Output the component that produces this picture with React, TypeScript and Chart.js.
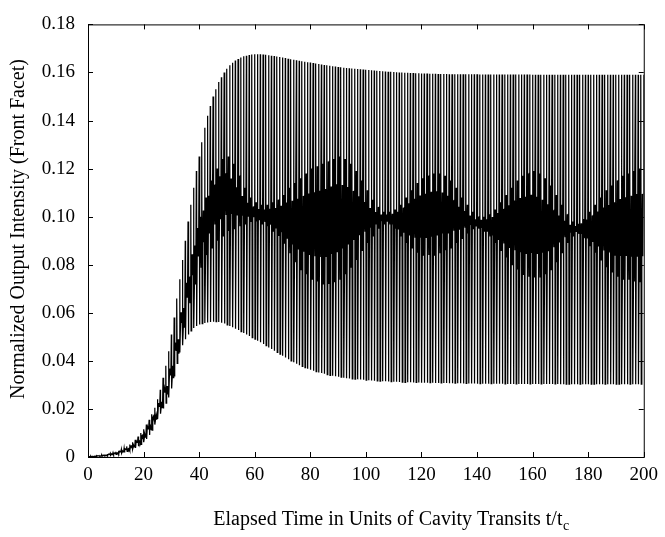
import React, { useEffect, useRef } from "react";
import { Chart, registerables } from "chart.js";

Chart.register(...registerables);

const FONT = "'Liberation Serif', 'Times New Roman', serif";

// Axis titles
const xTitle = "Elapsed Time in Units of Cavity Transits t/t";
const xTitleSub = "c";
const yTitle = "Normalized Output Intensity (Front Facet)";

// Time axis ticks and intensity axis ticks
const xTicks = [0, 20, 40, 60, 80, 100, 120, 140, 160, 180, 200];
const yTicks = [0, 0.02, 0.04, 0.06, 0.08, 0.1, 0.12, 0.14, 0.16, 0.18];

// Peak value of each cavity-transit oscillation (t = 0..200)
const peakValues = [
  0.0003, 0.0003, 0.0004, 0.0005, 0.0006, 0.0008, 0.001, 0.0012, 0.0015, 0.0018,
  0.0022, 0.0026, 0.0031, 0.0037, 0.0044, 0.0052, 0.0061, 0.0072, 0.0085, 0.01,
  0.0115, 0.0135, 0.0155, 0.0178, 0.0205, 0.024, 0.028, 0.033, 0.038, 0.044,
  0.051, 0.058, 0.066, 0.074, 0.082, 0.09, 0.098, 0.105, 0.112, 0.119,
  0.125, 0.131, 0.137, 0.142, 0.146, 0.15, 0.153, 0.156, 0.158, 0.16,
  0.1615, 0.163, 0.164, 0.165, 0.1656, 0.1662, 0.1667, 0.167, 0.1673, 0.1675,
  0.1676, 0.1676, 0.1676, 0.1675, 0.1674, 0.1672, 0.167, 0.1668, 0.1666, 0.1664,
  0.1662, 0.166, 0.1657, 0.1655, 0.1653, 0.1651, 0.1649, 0.1647, 0.1645, 0.1643,
  0.1641, 0.1639, 0.1637, 0.1635, 0.1633, 0.1631, 0.163, 0.1628, 0.1626, 0.1625,
  0.1623, 0.1622, 0.162, 0.1619, 0.1618, 0.1617, 0.1615, 0.1614, 0.1613, 0.1612,
  0.1611, 0.161, 0.1609, 0.1608, 0.1607, 0.1606, 0.1605, 0.1604, 0.1603, 0.1603,
  0.1602, 0.1601, 0.16, 0.16, 0.1599, 0.1599, 0.1598, 0.1598, 0.1597, 0.1597,
  0.1596, 0.1596, 0.1596, 0.1595, 0.1595, 0.1595, 0.1594, 0.1594, 0.1594, 0.1594,
  0.1593, 0.1593, 0.1593, 0.1593, 0.1593, 0.1593, 0.1593, 0.1593, 0.1593, 0.1593,
  0.1593, 0.1592, 0.1592, 0.1592, 0.1592, 0.1592, 0.1592, 0.1592, 0.1592, 0.1592,
  0.1592, 0.1592, 0.1592, 0.1592, 0.1592, 0.1592, 0.1592, 0.1592, 0.1592, 0.1592,
  0.1591, 0.1591, 0.1591, 0.1591, 0.1591, 0.1591, 0.1591, 0.1591, 0.1591, 0.1591,
  0.1591, 0.1591, 0.1591, 0.1591, 0.1591, 0.1591, 0.1591, 0.1591, 0.1591, 0.1591,
  0.159, 0.159, 0.159, 0.159, 0.159, 0.159, 0.159, 0.159, 0.159, 0.159,
  0.159, 0.159, 0.159, 0.159, 0.159, 0.159, 0.159, 0.159, 0.159, 0.159,
  0.159,
];

// Trough value of each oscillation (t = 0..199)
const troughValues = [
  0.0001, 0.0001, 0.0002, 0.0002, 0.0003, 0.0004, 0.0005, 0.0006, 0.0007, 0.0009,
  0.0011, 0.0013, 0.0016, 0.0019, 0.0023, 0.0027, 0.0032, 0.0038, 0.0045, 0.0053,
  0.0062, 0.0075, 0.0092, 0.0112, 0.0135, 0.0158, 0.018, 0.0202, 0.0224, 0.0248,
  0.0285, 0.0335, 0.039, 0.0435, 0.0465, 0.049, 0.051, 0.0525, 0.0537, 0.0545,
  0.0551, 0.0555, 0.0558, 0.056, 0.0562, 0.0563, 0.0563, 0.0562, 0.0559, 0.0555,
  0.055, 0.0545, 0.054, 0.0534, 0.0528, 0.0522, 0.0516, 0.051, 0.0503, 0.0497,
  0.049, 0.0484, 0.0477, 0.047, 0.0463, 0.0456, 0.0449, 0.0442, 0.0435, 0.0428,
  0.0421, 0.0414, 0.0407, 0.04, 0.0394, 0.0388, 0.0382, 0.0377, 0.0372, 0.0367,
  0.0363, 0.0359, 0.0355, 0.0352, 0.0349, 0.0346, 0.0343, 0.034, 0.0338, 0.0336,
  0.0334, 0.0332, 0.033, 0.0328, 0.0327, 0.0325, 0.0324, 0.0323, 0.0322, 0.0321,
  0.032, 0.0319, 0.0318, 0.0317, 0.0317, 0.0316, 0.0315, 0.0315, 0.0314, 0.0314,
  0.0313, 0.0313, 0.0312, 0.0312, 0.0311, 0.0311, 0.0311, 0.031, 0.031, 0.031,
  0.0309, 0.0309, 0.0309, 0.0309, 0.0309, 0.0308, 0.0308, 0.0308, 0.0308, 0.0308,
  0.0307, 0.0307, 0.0307, 0.0307, 0.0307, 0.0306, 0.0306, 0.0306, 0.0306, 0.0306,
  0.0305, 0.0305, 0.0305, 0.0305, 0.0305, 0.0305, 0.0305, 0.0305, 0.0305, 0.0305,
  0.0304, 0.0304, 0.0304, 0.0304, 0.0304, 0.0304, 0.0304, 0.0304, 0.0304, 0.0304,
  0.0304, 0.0304, 0.0304, 0.0304, 0.0304, 0.0304, 0.0304, 0.0304, 0.0304, 0.0304,
  0.0303, 0.0303, 0.0303, 0.0303, 0.0303, 0.0303, 0.0303, 0.0303, 0.0303, 0.0303,
  0.0303, 0.0303, 0.0303, 0.0303, 0.0303, 0.0303, 0.0303, 0.0303, 0.0303, 0.0303,
  0.0303, 0.0303, 0.0303, 0.0303, 0.0303, 0.0303, 0.0303, 0.0303, 0.0303, 0.0303,
];

// Upper / lower edge of the dense middle band, sampled every 2 transits (t = 0..200)
const bandUpper = [
  0.0002, 0.0003, 0.0005, 0.0008, 0.0012, 0.0017, 0.0024, 0.0034, 0.0047, 0.0066,
  0.0092, 0.0127, 0.0172, 0.023, 0.0295, 0.038, 0.049, 0.062, 0.075, 0.088,
  0.1, 0.108, 0.115, 0.12, 0.124, 0.125, 0.122, 0.117, 0.112, 0.108,
  0.106, 0.105, 0.105, 0.106, 0.107, 0.109, 0.112, 0.114, 0.116, 0.118,
  0.12, 0.121, 0.122, 0.123, 0.124, 0.125, 0.124, 0.122, 0.119, 0.115,
  0.111, 0.107, 0.104, 0.102, 0.102, 0.103, 0.105, 0.108, 0.111, 0.114,
  0.116, 0.117, 0.118, 0.118, 0.117, 0.115, 0.112, 0.108, 0.105, 0.102,
  0.1, 0.1, 0.101, 0.103, 0.106, 0.109, 0.112, 0.115, 0.117, 0.118,
  0.119, 0.118, 0.116, 0.113, 0.109, 0.105, 0.101, 0.098, 0.097, 0.099,
  0.102, 0.105, 0.108, 0.111, 0.113, 0.115, 0.117, 0.118, 0.119, 0.12,
  0.12,
];
const bandLower = [
  0.0002, 0.0002, 0.0004, 0.0007, 0.001, 0.0015, 0.0021, 0.003, 0.0042, 0.0059,
  0.0083, 0.0114, 0.0155, 0.0205, 0.026, 0.033, 0.043, 0.054, 0.064, 0.072,
  0.079, 0.084, 0.087, 0.09, 0.092, 0.094, 0.095, 0.096, 0.097, 0.098,
  0.098, 0.097, 0.096, 0.094, 0.092, 0.089, 0.085, 0.081, 0.078, 0.076,
  0.074, 0.073, 0.072, 0.072, 0.073, 0.074, 0.076, 0.079, 0.082, 0.086,
  0.089, 0.092, 0.095, 0.097, 0.097, 0.095, 0.092, 0.089, 0.087, 0.085,
  0.084, 0.084, 0.084, 0.085, 0.086, 0.087, 0.089, 0.091, 0.093, 0.095,
  0.095, 0.094, 0.092, 0.089, 0.086, 0.083, 0.08, 0.078, 0.076, 0.075,
  0.075, 0.075, 0.076, 0.078, 0.081, 0.085, 0.089, 0.092, 0.093, 0.091,
  0.088, 0.085, 0.082, 0.079, 0.077, 0.075, 0.074, 0.074, 0.073, 0.073,
  0.073,
];

function buildPoints() {
  const pts: { x: number; y: number }[] = [];
  for (let k = 0; k < troughValues.length; k++) {
    const j = Math.min(bandUpper.length - 1, Math.round((k + 0.5) / 2));
    let bu = bandUpper[j];
    let bl = bandLower[j];
    // every other transit only reaches the inner part of the band (fuzzy fringe)
    if (k % 2 === 1) {
      const c = (bu + bl) / 2;
      bu = c + (bu - c) * 0.55;
      bl = c + (bl - c) * 0.55;
    }
    pts.push({ x: k, y: peakValues[k] });
    pts.push({ x: k + 0.1, y: troughValues[k] });
    pts.push({ x: k + 0.3, y: bl });
    pts.push({ x: k + 0.5, y: bu });
    pts.push({ x: k + 0.7, y: bl });
    pts.push({ x: k + 0.85, y: bu });
  }
  pts.push({ x: peakValues.length - 1, y: peakValues[peakValues.length - 1] });
  return pts;
}

const framePlugin = {
  id: "frameTicks",
  afterDraw(chart: any) {
    const { ctx, chartArea: a, scales } = chart;
    const xs = scales.x;
    const ys = scales.y;
    ctx.save();
    ctx.strokeStyle = "#000";
    ctx.lineWidth = 1;
    ctx.strokeRect(a.left + 0.5, a.top + 0.5, a.right - a.left, a.bottom - a.top);
    const L = 5;
    ctx.beginPath();
    for (const v of xTicks) {
      const px = Math.round(xs.getPixelForValue(v)) + 0.5;
      ctx.moveTo(px, a.bottom);
      ctx.lineTo(px, a.bottom - L);
      ctx.moveTo(px, a.top);
      ctx.lineTo(px, a.top + L);
    }
    for (const v of yTicks) {
      const py = Math.round(ys.getPixelForValue(v)) + 0.5;
      ctx.moveTo(a.left, py);
      ctx.lineTo(a.left + L, py);
      ctx.moveTo(a.right, py);
      ctx.lineTo(a.right - L, py);
    }
    ctx.stroke();

    ctx.fillStyle = "#000";
    ctx.textBaseline = "alphabetic";
    ctx.textAlign = "left";

    // x-axis title with subscript
    ctx.font = `20px ${FONT}`;
    const w = ctx.measureText(xTitle).width;
    ctx.font = `14px ${FONT}`;
    const ws = ctx.measureText(xTitleSub).width;
    const x0 = 391 - (w + ws) / 2;
    ctx.font = `20px ${FONT}`;
    ctx.fillText(xTitle, x0, 525);
    ctx.font = `14px ${FONT}`;
    ctx.fillText(xTitleSub, x0 + w + 0.5, 530);

    // y-axis title
    ctx.save();
    ctx.translate(24, 229);
    ctx.rotate(-Math.PI / 2);
    ctx.textAlign = "center";
    ctx.font = `20px ${FONT}`;
    ctx.fillText(yTitle, 0, 0);
    ctx.restore();

    ctx.restore();
  },
};

export default function App() {
  const ref = useRef<HTMLCanvasElement>(null);
  useEffect(() => {
    document.body.style.margin = "0";
    const canvas = ref.current!;
    const chart = new Chart(canvas, {
      type: "line",
      data: {
        datasets: [
          {
            data: buildPoints(),
            borderColor: "#000",
            borderWidth: 1.25,
            pointRadius: 0,
            tension: 0,
            fill: false,
          },
        ],
      },
      options: {
        animation: false,
        responsive: false,
        devicePixelRatio: 1,
        parsing: false,
        normalized: true,
        layout: { padding: { left: 0, right: 13, top: 12, bottom: 0 } },
        plugins: { legend: { display: false }, tooltip: { enabled: false } },
        scales: {
          x: {
            type: "linear",
            min: 0,
            max: 200,
            afterBuildTicks: (s: any) => {
              s.ticks = xTicks.map((v) => ({ value: v }));
            },
            afterFit: (s: any) => {
              s.height = 80;
            },
            grid: { display: false, drawTicks: false },
            border: { display: false },
            ticks: {
              color: "#000",
              padding: 7,
              maxRotation: 0,
              font: { family: FONT, size: 19 },
            },
          },
          y: {
            type: "linear",
            min: 0,
            max: 0.18,
            afterBuildTicks: (s: any) => {
              s.ticks = yTicks.map((v) => ({ value: v }));
            },
            afterFit: (s: any) => {
              s.width = 88;
            },
            grid: { display: false, drawTicks: false },
            border: { display: false },
            ticks: {
              color: "#000",
              padding: 13,
              font: { family: FONT, size: 19 },
              callback: (v: any) => (Number(v) === 0 ? "0" : Number(v).toFixed(2)),
            },
          },
        },
      },
      plugins: [framePlugin],
    });
    return () => chart.destroy();
  }, []);
  return (
    <div style={{ position: "absolute", left: 0, top: 0, width: 665, height: 537, background: "#fff" }}>
      <canvas ref={ref} width={665} height={537} style={{ display: "block", width: 665, height: 537 }} />
    </div>
  );
}
